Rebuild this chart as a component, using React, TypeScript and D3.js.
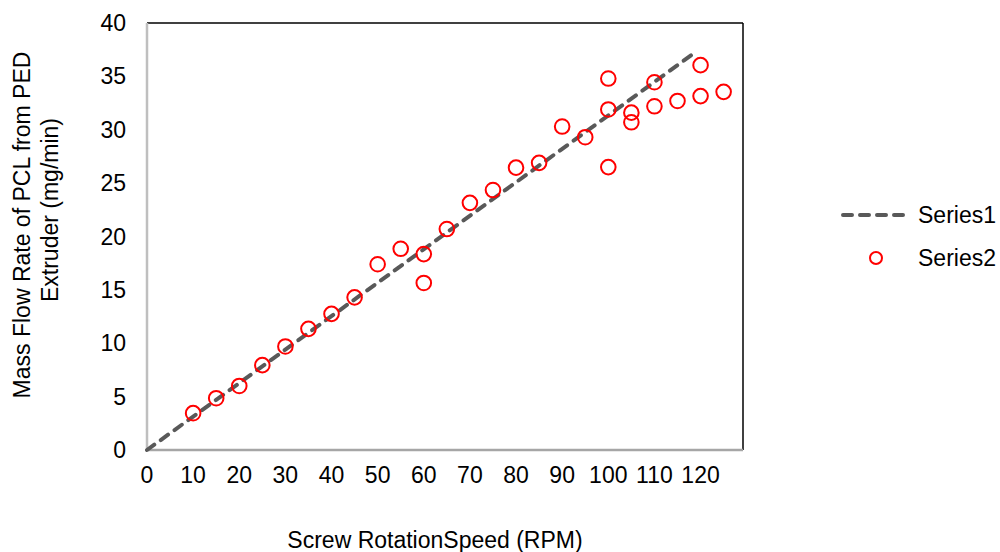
import { useEffect, useRef } from 'react'
import * as d3 from 'd3'

// Series1: dashed trend line
const lineX = [0, 119]
const lineY = [0, 37.3]

// Series2: measured mass flow rate (mg/min) vs screw speed (RPM)
const speedX = [10, 15, 20, 25, 30, 35, 40, 45, 50, 55, 60, 60, 65, 70, 75, 80, 85, 90, 95, 100, 100, 100, 105, 105, 110, 110, 115, 120, 120, 125]
const flowY = [3.45, 4.85, 6.0, 7.95, 9.7, 11.35, 12.75, 14.3, 17.4, 18.85, 18.35, 15.65, 20.7, 23.15, 24.35, 26.45, 26.9, 30.3, 29.3, 34.8, 31.9, 26.5, 31.6, 30.7, 34.45, 32.2, 32.7, 36.05, 33.15, 33.55]

const xTicks = [0, 10, 20, 30, 40, 50, 60, 70, 80, 90, 100, 110, 120]
const yTicks = [0, 5, 10, 15, 20, 25, 30, 35, 40]

const W = 1000
const H = 552
const FONT = 'Liberation Sans, Arial, sans-serif'
const FS = 23

export default function App() {
  const svgRef = useRef<SVGSVGElement>(null)

  useEffect(() => {
    const svg = d3.select(svgRef.current)
    svg.selectAll('*').remove()

    const x = d3.scaleLinear().domain([0, 129.2]).range([147, 743])
    const y = d3.scaleLinear().domain([0, 40]).range([450, 23])

    svg.append('rect').attr('width', W).attr('height', H).attr('fill', '#fff')

    // frame: black top/right, grey axes left/bottom
    svg.append('line').attr('x1', 147).attr('x2', 743).attr('y1', 23).attr('y2', 23)
      .attr('stroke', '#000').attr('stroke-width', 1.5)
    svg.append('line').attr('x1', 743).attr('x2', 743).attr('y1', 23).attr('y2', 450)
      .attr('stroke', '#000').attr('stroke-width', 1.5)
    svg.append('line').attr('x1', 147).attr('x2', 147).attr('y1', 23).attr('y2', 451)
      .attr('stroke', '#bfbfbf').attr('stroke-width', 2.5)
    svg.append('line').attr('x1', 146).attr('x2', 743).attr('y1', 450).attr('y2', 450)
      .attr('stroke', '#a6a6a6').attr('stroke-width', 2.5)

    // tick labels
    svg.append('g').selectAll('text').data(xTicks).join('text')
      .attr('x', d => x(d)).attr('y', 483)
      .attr('text-anchor', 'middle')
      .attr('font-family', FONT).attr('font-size', FS).attr('fill', '#000')
      .text(d => d)

    svg.append('g').selectAll('text').data(yTicks).join('text')
      .attr('x', 126).attr('y', d => y(d) + 8)
      .attr('text-anchor', 'end')
      .attr('font-family', FONT).attr('font-size', FS).attr('fill', '#000')
      .text(d => d)

    // axis titles
    svg.append('text')
      .attr('x', 435).attr('y', 548)
      .attr('text-anchor', 'middle')
      .attr('font-family', FONT).attr('font-size', FS).attr('fill', '#000')
      .text('Screw RotationSpeed (RPM)')

    const yTitle = svg.append('g').attr('transform', 'translate(0,225) rotate(-90)')
    yTitle.append('text')
      .attr('x', 0).attr('y', 30)
      .attr('text-anchor', 'middle')
      .attr('font-family', FONT).attr('font-size', FS).attr('fill', '#000')
      .text('Mass Flow Rate of PCL from PED')
    yTitle.append('text')
      .attr('x', 15).attr('y', 58)
      .attr('text-anchor', 'middle')
      .attr('font-family', FONT).attr('font-size', FS).attr('fill', '#000')
      .text('Extruder  (mg/min)')

    // Series1 dashed line
    const line = d3.line<number>().x(d => x(d)).y((d, i) => y(lineY[i]))
    svg.append('path').datum(lineX).attr('d', line)
      .attr('fill', 'none').attr('stroke', '#595959').attr('stroke-width', 4)
      .attr('stroke-dasharray', '9,8').attr('stroke-linecap', 'round')

    // Series2 circles
    svg.append('g').selectAll('circle').data(speedX).join('circle')
      .attr('cx', d => x(d)).attr('cy', (d, i) => y(flowY[i]))
      .attr('r', 7.3).attr('fill', 'none').attr('stroke', '#ff0000').attr('stroke-width', 2)

    // legend
    const lg = svg.append('g')
    lg.append('line').attr('x1', 843).attr('x2', 908).attr('y1', 215).attr('y2', 215)
      .attr('stroke', '#595959').attr('stroke-width', 4)
      .attr('stroke-dasharray', '9,8').attr('stroke-linecap', 'round')
    lg.append('text').attr('x', 918).attr('y', 223)
      .attr('font-family', FONT).attr('font-size', FS).attr('fill', '#000')
      .text('Series1')
    lg.append('circle').attr('cx', 876).attr('cy', 258).attr('r', 6)
      .attr('fill', 'none').attr('stroke', '#ff0000').attr('stroke-width', 2)
    lg.append('text').attr('x', 918).attr('y', 266)
      .attr('font-family', FONT).attr('font-size', FS).attr('fill', '#000')
      .text('Series2')
  }, [])

  return (
    <svg
      ref={svgRef}
      width={W}
      height={H}
      style={{ position: 'fixed', left: 0, top: 0, display: 'block' }}
    />
  )
}
